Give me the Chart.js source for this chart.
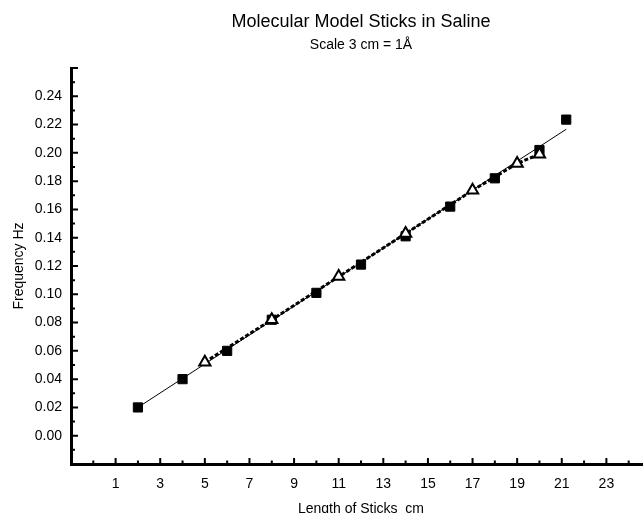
<!DOCTYPE html>
<html>
<head>
<meta charset="utf-8">
<script src="https://cdn.jsdelivr.net/npm/chart.js@4"></script>
<style>
  html, body { margin: 0; padding: 0; background: #fff; overflow: hidden; }
  #wrap { width: 660px; height: 530px; }
</style>
</head>
<body>
<div id="wrap"><canvas id="c" width="660" height="530"></canvas></div>
<script>
// ---- data ----
const titleText = "Molecular Model Sticks in Saline";
const subtitleText = "Scale 3 cm = 1\u00C5";
const xAxisTitle = "Length of Sticks  cm";
const yAxisTitle = "Frequency Hz";

const squareX = [2, 4, 6, 8, 10, 12, 14, 16, 18, 20, 21.2];
const squareY = [0.020, 0.040, 0.060, 0.082, 0.101, 0.121, 0.141, 0.162, 0.182, 0.202, 0.2235];

const triangleX = [5, 8, 11, 14, 17, 19, 20];
const triangleY = [0.052, 0.082, 0.1125, 0.143, 0.1735, 0.1925, 0.199];

const fitX = [2, 21.2];
const fitY = [0.020, 0.2167];

const xTickLabels = [1, 3, 5, 7, 9, 11, 13, 15, 17, 19, 21, 23];
const xMinorTicks = [0, 2, 4, 6, 8, 10, 12, 14, 16, 18, 20, 22, 24];
const xMajorTicks = [-1, 1, 3, 5, 7, 9, 11, 13, 15, 17, 19, 21, 23, 25];
const yTickLabels = [0.00, 0.02, 0.04, 0.06, 0.08, 0.10, 0.12, 0.14, 0.16, 0.18, 0.20, 0.22, 0.24];
const yMajorTicks = [0.00, 0.02, 0.04, 0.06, 0.08, 0.10, 0.12, 0.14, 0.16, 0.18, 0.20, 0.22, 0.24, 0.26];
const yMinorTicks = [-0.01, 0.01, 0.03, 0.05, 0.07, 0.09, 0.11, 0.13, 0.15, 0.17, 0.19, 0.21, 0.23, 0.25];

const toPts = (xs, ys) => xs.map((x, i) => ({ x: x, y: ys[i] }));

const FONT = "'Liberation Sans', Arial, sans-serif";

const decorPlugin = {
  id: 'decor',
  afterDraw(chart) {
    const ctx = chart.ctx;
    const xs = chart.scales.x, ys = chart.scales.y;
    const area = chart.chartArea;
    ctx.save();
    ctx.strokeStyle = '#000';
    ctx.lineWidth = 2;
    ctx.lineCap = 'butt';
    const bottom = ys.getPixelForValue(-0.02);
    const left = xs.getPixelForValue(-1);
    ctx.beginPath();
    xMajorTicks.forEach(v => { const p = xs.getPixelForValue(v); ctx.moveTo(p, bottom); ctx.lineTo(p, bottom - 6); });
    xMinorTicks.forEach(v => { const p = xs.getPixelForValue(v); ctx.moveTo(p, bottom); ctx.lineTo(p, bottom - 3.5); });
    yMajorTicks.forEach(v => { const p = ys.getPixelForValue(v); ctx.moveTo(left, p); ctx.lineTo(left + 7, p); });
    yMinorTicks.forEach(v => { const p = ys.getPixelForValue(v); ctx.moveTo(left, p); ctx.lineTo(left + 4, p); });
    ctx.stroke();
    // titles
    const cx = (area.left + area.right) / 2;
    ctx.fillStyle = '#000';
    ctx.textAlign = 'center';
    ctx.textBaseline = 'middle';
    ctx.font = '18px ' + FONT;
    ctx.fillText(titleText, cx, 22);
    ctx.font = '14px ' + FONT;
    ctx.fillText(subtitleText, cx, 45);
    ctx.restore();
  }
};

new Chart(document.getElementById('c'), {
  type: 'line',
  data: {
    datasets: [
      {
        label: 'triangles',
        data: toPts(triangleX, triangleY),
        borderColor: '#000',
        borderWidth: 3,
        borderDash: [4, 2],
        pointStyle: 'triangle',
        pointRadius: 6.5,
        pointBackgroundColor: '#fff',
        pointBorderColor: '#000',
        pointBorderWidth: 2,
        tension: 0,
        order: 0
      },
      {
        label: 'squares',
        data: toPts(squareX, squareY),
        showLine: false,
        pointStyle: 'rect',
        pointRadius: 6.5,
        pointBackgroundColor: '#000',
        pointBorderColor: '#000',
        pointBorderWidth: 1,
        order: 1
      },
      {
        label: 'fit',
        data: toPts(fitX, fitY),
        borderColor: '#000',
        borderWidth: 1,
        pointRadius: 0,
        tension: 0,
        order: 2
      }
    ]
  },
  options: {
    responsive: false,
    animation: false,
    events: [],
    layout: { padding: { top: 68, right: 9, left: 0, bottom: 0 } },
    plugins: { legend: { display: false }, tooltip: { enabled: false }, title: { display: false } },
    scales: {
      x: {
        type: 'linear',
        min: -1, max: 25,
        afterFit(s) { s.height = 66; },
        afterBuildTicks(s) { s.ticks = xTickLabels.map(v => ({ value: v })); },
        grid: { display: false, drawTicks: false },
        border: { display: true, color: '#000', width: 3 },
        ticks: { color: '#000', font: { family: FONT, size: 14 }, padding: 12, maxRotation: 0, autoSkip: false,
                 callback: v => String(v) },
        title: { display: true, text: xAxisTitle, color: '#000', font: { family: FONT, size: 14 }, padding: { top: 0, bottom: 12 } }
      },
      y: {
        type: 'linear',
        min: -0.02, max: 0.26,
        afterFit(s) { s.width = 71; },
        afterBuildTicks(s) { s.ticks = yTickLabels.map(v => ({ value: v })); },
        grid: { display: false, drawTicks: false },
        border: { display: true, color: '#000', width: 3 },
        ticks: { color: '#000', font: { family: FONT, size: 14 }, padding: 9, autoSkip: false,
                 callback: v => Number(v).toFixed(2) },
        title: { display: true, text: yAxisTitle, color: '#000', font: { family: FONT, size: 14 }, padding: { top: 11, bottom: 0 } }
      }
    }
  },
  plugins: [decorPlugin]
});
</script>
</body>
</html>
